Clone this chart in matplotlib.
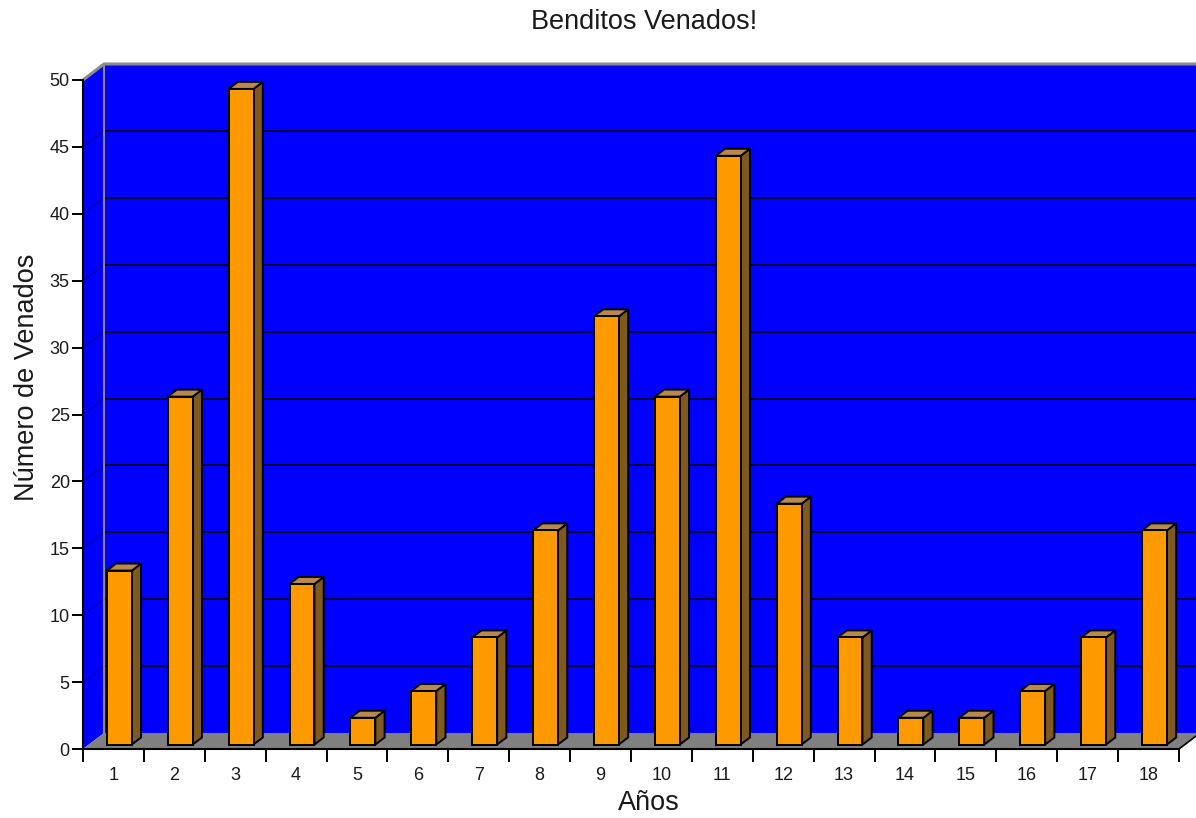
import matplotlib
matplotlib.use("Agg")
import matplotlib.pyplot as plt
from matplotlib.patches import Polygon

plt.rcParams['font.family'] = ['Liberation Sans', 'DejaVu Sans']

# ---- data ----
years = list(range(1, 19))
deer = [13, 26, 49, 12, 2, 4, 8, 16, 32, 26, 44, 18, 8, 2, 2, 4, 8, 16]
y_ticks = list(range(0, 51, 5))
title = "Benditos Venados!"
xlabel = "Años"
ylabel = "Número de Venados"

# ---- style ----
W, H = 1196, 818
wall_blue = '#0000FF'
floor_gray = '#808080'
bar_front = '#FF9900'
bar_side = '#7F5A1E'
bar_top = '#B8894E'
grid_col = '#000033'
text_col = '#1a1a1a'

fig = plt.figure(figsize=(W / 100, H / 100), dpi=100)
x0_px, x1_px, y0_px, y1_px = 83, 1179, 749, 80
ax = fig.add_axes([x0_px / W, (H - y0_px) / H, (x1_px - x0_px) / W, (y0_px - y1_px) / H])
xmin, xmax = 0.5, len(years) + 0.5
ymin, ymax = 0, 50
ax.set_xlim(xmin, xmax)
ax.set_ylim(ymin, ymax)
ax.patch.set_visible(False)

# depth vector in data units
px_per_x = (x1_px - x0_px) / (xmax - xmin)
px_per_y = (y0_px - y1_px) / (ymax - ymin)
DX = 21 / px_per_x
DY = 16 / px_per_y

def poly(pts, fc, ec='none', lw=0, z=1):
    p = Polygon(pts, closed=True, facecolor=fc, edgecolor=ec, linewidth=lw,
                zorder=z, clip_on=False, joinstyle='miter')
    ax.add_patch(p)

# back wall
poly([(xmin + DX, DY), (xmax + DX, DY), (xmax + DX, ymax + DY), (xmin + DX, ymax + DY)], wall_blue, z=1)
# left wall
poly([(xmin, 0), (xmin + DX, DY), (xmin + DX, ymax + DY), (xmin, ymax)], wall_blue, z=1)
# floor
poly([(xmin, 0), (xmax, 0), (xmax + DX, DY), (xmin + DX, DY)], floor_gray, z=1)

# grid lines
for v in y_ticks[1:-1]:
    ax.plot([xmin + DX, xmax + DX], [v + DY, v + DY], color=grid_col, lw=1.4, zorder=2, clip_on=False)
    ax.plot([xmin, xmin + DX], [v, v + DY], color='#0000AA', lw=1.0, zorder=2, clip_on=False)
# wall borders
ax.plot([xmin, xmin + DX, xmax + DX], [ymax, ymax + DY, ymax + DY], color='#8A8A8A', lw=2.2,
        zorder=3, clip_on=False, solid_capstyle='butt')
ax.plot([xmin + DX, xmin + DX], [DY, ymax + DY], color='#8A8A8A', lw=1.5, zorder=3, clip_on=False)
ax.plot([xmax, xmax + DX], [0, DY], color='black', lw=1.2, zorder=3, clip_on=False)

# bars
f0, f1 = 0.28, 0.72
hw = 0.205
for c, v in zip(years, deer):
    xl, xr = c - hw, c + hw
    # side face
    poly([(xr + f0 * DX, f0 * DY), (xr + f1 * DX, f1 * DY), (xr + f1 * DX, v + f1 * DY), (xr + f0 * DX, v + f0 * DY)],
         bar_side, 'black', 1.4, z=5)
    # top face
    poly([(xl + f0 * DX, v + f0 * DY), (xr + f0 * DX, v + f0 * DY), (xr + f1 * DX, v + f1 * DY), (xl + f1 * DX, v + f1 * DY)],
         bar_top, 'black', 1.4, z=5)
    # front face
    poly([(xl + f0 * DX, f0 * DY), (xr + f0 * DX, f0 * DY), (xr + f0 * DX, v + f0 * DY), (xl + f0 * DX, v + f0 * DY)],
         bar_front, 'black', 1.4, z=6)

# axes / ticks
for s in ['top', 'right']:
    ax.spines[s].set_visible(False)
for s in ['left', 'bottom']:
    ax.spines[s].set_linewidth(1.5)
    ax.spines[s].set_color('black')
    ax.spines[s].set_zorder(7)

ax.set_yticks(y_ticks)
ax.tick_params(axis='y', direction='out', length=8, width=1.4, pad=1.5,
               labelsize=13, labelcolor=text_col, color='black')
ax.set_xticks(years)
ax.set_xticklabels([str(y) for y in years])
ax.set_xticks([c + 0.5 for c in range(0, len(years) + 1)], minor=True)
ax.tick_params(axis='x', which='major', length=0, pad=13, labelsize=13, labelcolor=text_col)
ax.tick_params(axis='x', which='minor', direction='out', length=9, width=1.4, color='black')

fig.text(644 / W, 1 - 22 / H, title, ha='center', va='center', fontsize=19.5, color=text_col)
fig.text(649 / W, 1 - 803 / H, xlabel, ha='center', va='center', fontsize=19.5, color=text_col)
fig.text(27 / W, 1 - 377 / H, ylabel, ha='center', va='center', rotation=90, fontsize=19.5, color=text_col)

fig.savefig('out.png', dpi=100, facecolor='white')
